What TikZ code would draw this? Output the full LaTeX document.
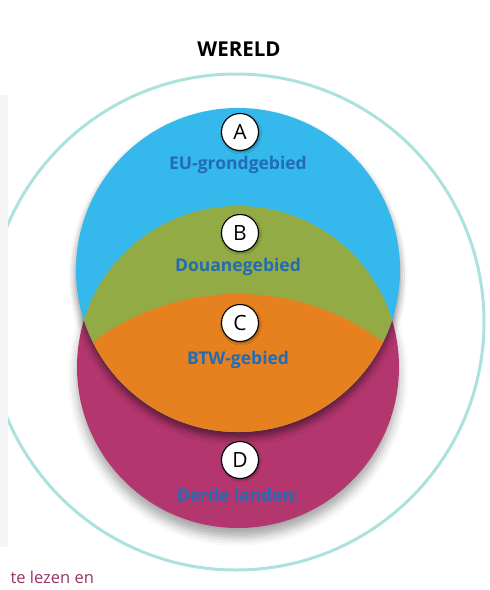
\documentclass[tikz,border=0pt]{standalone}
\usepackage{fontspec}
\setmainfont{Open Sans}
\usetikzlibrary{shadows.blur}
\definecolor{eublue}{RGB}{53,184,235}
\definecolor{douanegreen}{RGB}{147,171,68}
\definecolor{btworange}{RGB}{231,128,30}
\definecolor{derdemagenta}{RGB}{180,54,110}
\definecolor{labelblue}{RGB}{35,108,180}
\definecolor{worldline}{RGB}{172,226,221}
\definecolor{notepurple}{RGB}{150,50,105}
\begin{document}
\begin{tikzpicture}[x=1pt,y=-1pt,
  letter/.style={circle,draw=black,line width=1.1pt,fill=white,minimum size=37pt,inner sep=0pt,
    font=\fontsize{21}{21}\selectfont,
    blur shadow={shadow xshift=1pt,shadow yshift=-1.5pt,shadow blur radius=2pt,shadow opacity=40}},
  zone/.style={font=\bfseries\fontsize{17.5}{17.5}\selectfont,text=labelblue}]
\useasboundingbox (0,0) rectangle (490,590);
% Centres of the areas
\coordinate (W) at (236,322);
\coordinate (A) at (238,270);
\coordinate (D) at (238,367);
\coordinate (E) at (238,537);
% World
\fill[black!4] (0,95) rectangle (8,547);
\begin{scope}
\clip (8,0) rectangle (490,590);
\draw[worldline,line width=3pt] (W) circle[radius=248pt];
\end{scope}
\node[font=\bfseries\fontsize{20.5}{20.5}\selectfont] (wereld) at (239,49) {WERELD};
% Third countries
\fill[derdemagenta,blur shadow={shadow xshift=0pt,shadow yshift=-9pt,shadow blur radius=9pt,shadow opacity=35}]
  (D) circle[radius=161pt];
% EU territory
\fill[eublue,blur shadow={shadow xshift=0pt,shadow yshift=-6pt,shadow blur radius=7pt,shadow opacity=50}]
  (A) circle[radius=162pt];
% Customs territory
\begin{scope}
\clip (A) circle[radius=162pt];
\fill[douanegreen] (D) circle[radius=161pt];
\fill[btworange] (E) circle[radius=243pt];
\end{scope}
% Letters
\node[letter] (letA) at (240,132) {A};
\node[letter] (letB) at (240,233) {B};
\node[letter] (letC) at (240,323) {C};
\node[letter] (letD) at (240,460) {D};
% Labels
\node[zone] (lblA) at (238,165) {EU-grondgebied};
\node[zone] (lblB) at (238,267) {Douanegebied};
\node[zone] (lblC) at (238,360) {BTW-gebied};
\node[zone] (lblD) at (238,495) {Derde landen:};
\node[anchor=west,text=notepurple,font=\fontsize{16.5}{16.5}\selectfont] (note) at (7,577) {te lezen en};
\end{tikzpicture}
\end{document}
